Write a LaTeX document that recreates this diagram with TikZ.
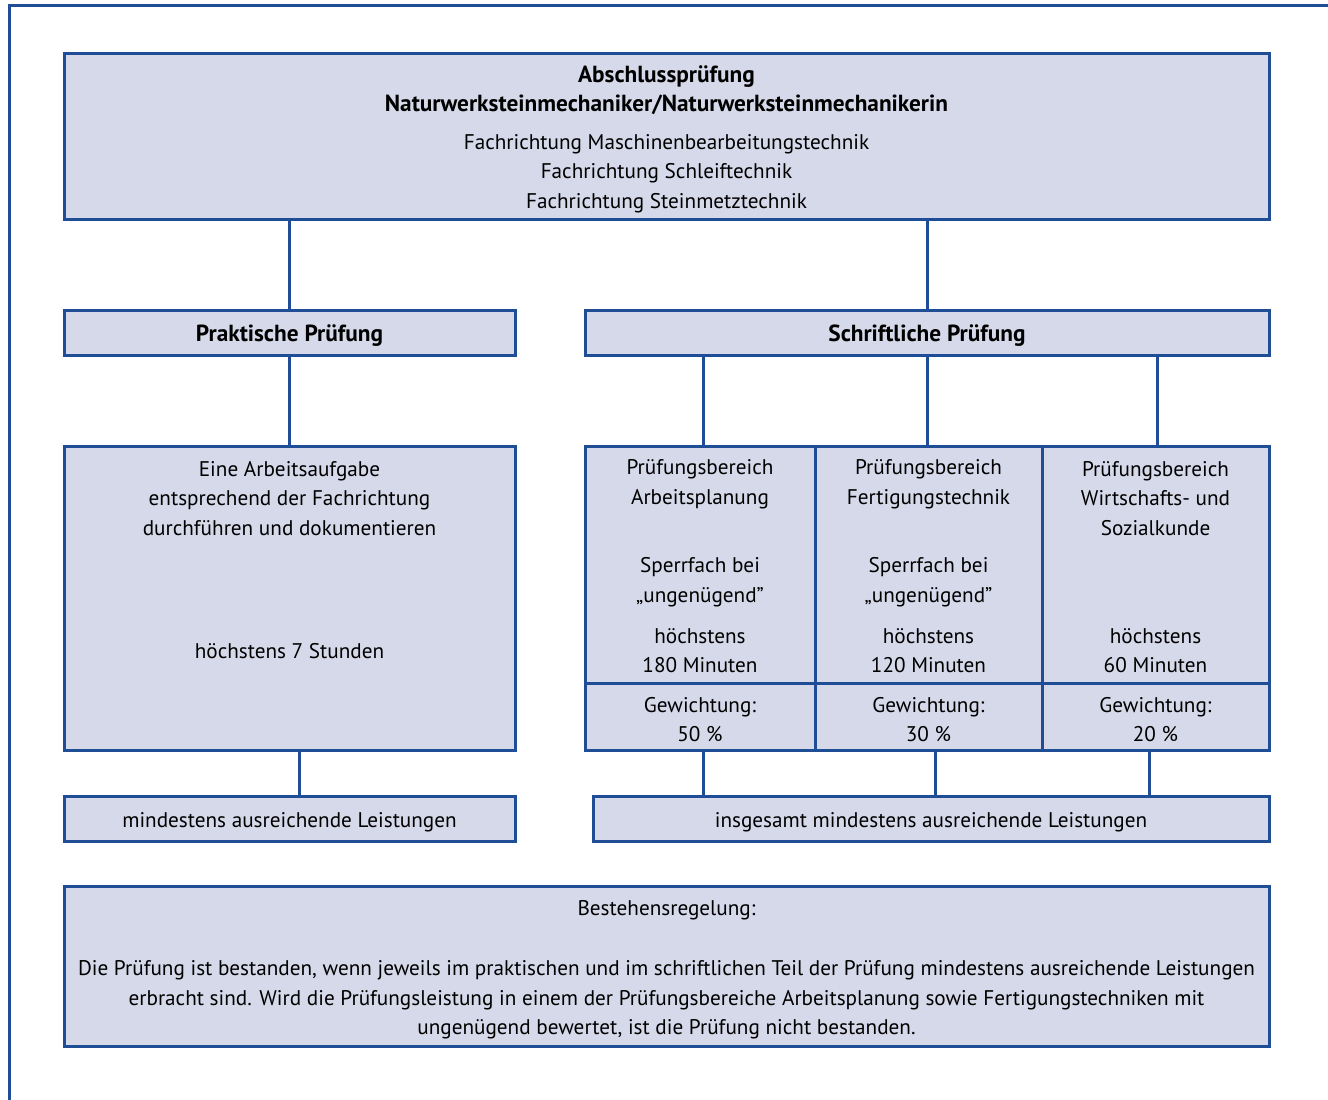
\documentclass[tikz,border=0pt]{standalone}
\usepackage{fontspec}
\setmainfont{PT Sans}
\definecolor{bline}{RGB}{31,78,150}
\definecolor{bfill}{RGB}{214,217,233}
\begin{document}
\begin{tikzpicture}[x=1pt,y=-1pt,
  box/.style={draw=bline,fill=bfill,line width=3pt,inner sep=0pt},
  conn/.style={draw=bline,line width=3pt},
  txt/.style={inner sep=0pt,align=center,font=\fontsize{21.2}{29.5}\selectfont},
  btxt/.style={txt,font=\fontsize{23.3}{29.5}\selectfont\bfseries}]
\useasboundingbox (0,0) rectangle (1328,1100);
% outer frame
\coordinate (fa) at (9,1100);
\coordinate (fb) at (9,5);
\coordinate (fc) at (1328,5);
\draw[conn,line cap=rect] (fa) -- (fb) -- (fc);
% boxes
\node[box,minimum width=1205pt,minimum height=166pt] (top) at (666.5,136) {};
\node[box,minimum width=451pt,minimum height=45pt] (prak) at (289.5,332.5) {};
\node[box,minimum width=684pt,minimum height=45pt] (schr) at (927,332.5) {};
\node[box,minimum width=451pt,minimum height=304pt] (arb) at (289.5,598) {};
\node[box,minimum width=230pt,minimum height=237pt] (c1) at (700,564.5) {};
\node[box,minimum width=227pt,minimum height=237pt] (c2) at (928.5,564.5) {};
\node[box,minimum width=227pt,minimum height=237pt] (c3) at (1155.5,564.5) {};
\node[box,minimum width=230pt,minimum height=67pt] (g1) at (700,716.5) {};
\node[box,minimum width=227pt,minimum height=67pt] (g2) at (928.5,716.5) {};
\node[box,minimum width=227pt,minimum height=67pt] (g3) at (1155.5,716.5) {};
\node[box,minimum width=451pt,minimum height=45pt] (minl) at (289.5,818.5) {};
\node[box,minimum width=676pt,minimum height=45pt] (minr) at (931,818.5) {};
\node[box,minimum width=1205pt,minimum height=160pt] (best) at (666.5,966) {};
% connectors
\draw[conn] (top.south -| prak.north) -- (prak.north);
\draw[conn] (top.south -| schr.north) -- (schr.north);
\draw[conn] (prak.south) -- (arb.north -| prak.south);
\draw[conn] (schr.south -| 703,0) -- (c1.north -| 703,0);
\draw[conn] (schr.south) -- (c2.north -| schr.south);
\draw[conn] (schr.south -| 1157,0) -- (c3.north -| 1157,0);
\draw[conn] (arb.south -| 299,0) -- (minl.north -| 299,0);
\draw[conn] (g1.south -| 703,0) -- (minr.north -| 703,0);
\draw[conn] (g2.south -| 935,0) -- (minr.north -| 935,0);
\draw[conn] (g3.south -| 1149,0) -- (minr.north -| 1149,0);
% texts
\node[btxt] (t1) at (666.5,90) {Abschlussprüfung\\Naturwerksteinmechaniker/Naturwerksteinmechanikerin};
\node[txt] (t2) at (666.5,173.5) {Fachrichtung Maschinenbearbeitungstechnik\\Fachrichtung Schleiftechnik\\Fachrichtung Steinmetztechnik};
\node[btxt] (t3) at (289.5,335.5) {Praktische Prüfung};
\node[btxt] (t4) at (927,335.5) {Schriftliche Prüfung};
\node[txt] (t5) at (289.5,498.5) {Eine Arbeitsaufgabe\\entsprechend der Fachrichtung\\durchführen und dokumentieren};
\node[txt] (t6) at (289.5,651) {höchstens 7 Stunden};
\node[txt] (a1) at (700,484) {Prüfungsbereich\\Arbeitsplanung};
\node[txt] (a2) at (700,582) {Sperrfach bei\\„ungenügend”};
\node[txt] (a3) at (700,650.5) {höchstens\\180 Minuten};
\node[txt] (a4) at (700,719.5) {Gewichtung:\\50 \%};
\node[txt] (b1) at (928.5,484) {Prüfungsbereich\\Fertigungstechnik};
\node[txt] (b2) at (928.5,582) {Sperrfach bei\\„ungenügend”};
\node[txt] (b3) at (928.5,650.5) {höchstens\\120 Minuten};
\node[txt] (b4) at (928.5,719.5) {Gewichtung:\\30 \%};
\node[txt] (d1) at (1155.5,498.5) {Prüfungsbereich\\Wirtschafts- und\\Sozialkunde};
\node[txt] (d3) at (1155.5,650.5) {höchstens\\60 Minuten};
\node[txt] (d4) at (1155.5,719.5) {Gewichtung:\\20 \%};
\node[txt] (t7) at (289.5,822) {mindestens ausreichende Leistungen};
\node[txt] (t8) at (931,822) {insgesamt mindestens ausreichende Leistungen};
\node[txt] (t9) at (666.5,910) {Bestehensregelung:};
\node[txt] (t10) at (666.5,1000) {Die Prüfung ist bestanden, wenn jeweils im praktischen und im schriftlichen Teil der Prüfung mindestens ausreichende Leistungen\\erbracht sind. Wird die Prüfungsleistung in einem der Prüfungsbereiche Arbeitsplanung sowie Fertigungstechniken mit\\ungenügend bewertet, ist die Prüfung nicht bestanden.};
\end{tikzpicture}
\end{document}
